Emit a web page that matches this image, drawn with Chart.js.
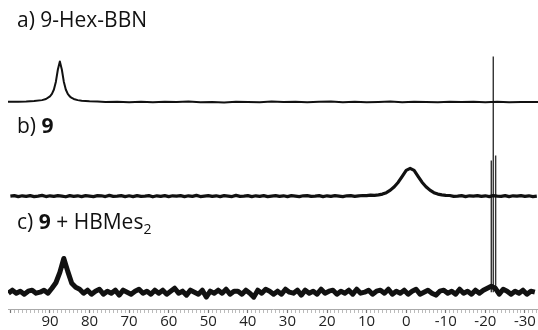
<!DOCTYPE html>
<html>
<head>
<meta charset="utf-8">
<script src="https://cdn.jsdelivr.net/npm/chart.js@4"></script>
<style>
  html, body { margin: 0; padding: 0; background: #fff; }
  #wrap { position: relative; width: 538px; height: 330px; }
  .lbl { position: absolute; left: 17px; font-family: "Open Sans", sans-serif; font-size: 21px; line-height: 24px; color: #111; white-space: nowrap; }
  .lbl sub { font-size: 14px; line-height: 0; vertical-align: -5px; }
</style>
</head>
<body>
<div id="wrap">
  <canvas id="nmr" width="538" height="330"></canvas>
  <div class="lbl" style="top:7px">a) 9-Hex-BBN</div>
  <div class="lbl" style="top:113px">b) <b>9</b></div>
  <div class="lbl" style="top:209px">c) <b>9</b> + HBMes<sub>2</sub></div>
</div>
<script>
// x axis (ppm), drawn high -> low like an NMR plot
const ppmMax = 100.6;
const ppmMin = -33.3;
const tickLabels = [90, 80, 70, 60, 50, 40, 30, 20, 10, 0, -10, -20, -30];

// a) 9-Hex-BBN : clean spectrum, sharp peak near 87.5 ppm
const specAPpm = [100.6, 98, 96, 94, 92, 91, 90, 89.5, 89, 88.5, 88, 87.5, 87, 86.5, 86, 85.5, 85, 84.5, 84, 83, 82, 80, 78,
  76, 73, 70, 67, 64, 61, 58, 55, 52, 49, 46, 43, 40, 37, 34, 31, 28, 25, 22, 19, 16, 13, 10, 7, 4, 1,
  -2, -5, -8, -11, -14, -17, -20, -23, -26, -29, -33.3];
const specAInt = [0.2, 0.35, 0.55, 0.95, 1.9, 3, 5.7, 8.2, 12.6, 20.5, 32.8, 41, 32.8, 20.5, 12.6, 8.2, 5.7, 4.1, 3.1, 1.9, 1.3, 0.7, 0.4,
  0, 0.3, -0.2, 0.3, -0.3, 0.2, 0, 0.4, -0.3, 0.1, -0.4, 0.3, 0, -0.3, 0.4, -0.1, 0.2, -0.3, 0.3, 0.5, -0.2, 0.3, -0.3, 0.1, 0.4, -0.2,
  0.3, 0, -0.3, 0.3, -0.1, 0.2, -0.3, 0.3, -0.2, 0.1, 0];

// b) 9 : broad peak near -1 ppm, sampled every 1 ppm from 100 down
const specBStart = 100;
const specBInt = [
  0, 0.5, -0.5, 0.3, -0.3, 0.5, -0.5, 0, 0.7, -0.5, 0.3, -0.3, 0.5, 0, -0.7, 0.5, -0.3, 0.3, -0.5, 0.5,
  0, -0.5, 0.5, 0.3, -0.5, 0.7, -0.3, 0, 0.5, -0.5, 0.3, -0.5, 0.5, -0.3, 0, 0.5, -0.7, 0.3, -0.3, 0.5,
  -0.5, 0.3, 0, 0.5, -0.5, 0.3, -0.3, 0.7, -0.5, 0, 0.5, -0.3, 0.3, -0.5, 0.5, 0, -0.5, 0.7, -0.3, 0,
  0.5, -0.5, 0.3, -0.3, 0.5, -0.5, 0, 0.5, -0.3, 0.3, -0.5, 0.5, 0, -0.5, 0.3, 0.5, -0.3, 0, 0.5, -0.5,
  0.3, -0.3, 0.5, 0, -0.5, 0.3, 0.5, -0.3, 0.3, 0.6, 0.5, 1, 0.8, 1.2, 2, 3.5, 6, 9.5, 14, 20,
  26, 28, 26, 20, 14, 9.5, 6, 3.5, 2, 1.2, 0.7, 0.6, -0.3, 0, 0.5, -0.5, 0.3, 0, 0.5, -0.3,
  0.3, -0.5, 0.5, 0, -0.3, 0.5, -0.5, 0.3, 0, 0.5, -0.3, 0.3, -0.5, 0
];

// c) 9 + HBMes2 : noisy, peak near 86.5 ppm, sampled every 1 ppm from 100.5 down
const specCStart = 100.5;
const specCInt = [
  -1, 2, -1, 1, -2, 1, 2, -1, 0, 2, -1, 4, 9.5, 20, 34, 21, 9, 5,
  3, -1, 2, -2, 1, 3, -2, 1, -1, 2, -3, 2, 0, -2, 1, 3, -1, 1, -2, 2,
  -1, 2, -2, 1, 4, -1, 1, -3, 2, 0, -2, 2, -5, 1, -1, 2, -1, 3, -2, 1,
  1, -2, 2, -1, -5, 2, -1, 3, 1, -2, 1, -2, 3, 0, -1, 2, -3, 2, -1, 1,
  -2, 3, -1, 1, 2, -2, 1, -1, 2, -2, 3, -1, 0, 2, -2, 1, 2, -1, 3, -2,
  1, -1, 2, -2, 1, 3, -2, 0, 2, -1, -3, 1, 2, -1, 1, -2, 3, -1, 1, -2,
  2, -1, 2, 4, 6, 4, -2, 3, 1, -2, 1, -1, 2, -2, 1, 0
];

// c) sharp lines around -22 ppm (they run up through the other traces)
const sharpPpm = [-21.5, -22.0, -22.6];
const sharpHeight = [133, 238, 138];

function gridSeries(start, values, offset) {
  return values.map((v, i) => ({ x: start - i, y: offset + v }));
}

document.addEventListener('DOMContentLoaded', function () {
    const el = document.getElementById('nmr');

    // vertical stacking of the three traces (1 y unit = 1 px)
    const offA = 209, offB = 114, offC = 17;

    const dataA = specAPpm.map((p, i) => ({ x: p, y: offA + specAInt[i] }));
    const dataB = gridSeries(specBStart, specBInt, offB);
    const dataC = gridSeries(specCStart, specCInt, offC);

    const dataSharp = [];
    sharpPpm.forEach((p, i) => {
        dataSharp.push({ x: p, y: offC });
        dataSharp.push({ x: p, y: offC + sharpHeight[i] });
        dataSharp.push({ x: p, y: null });
    });

    const tickValues = [];
    for (let v = Math.ceil(ppmMin); v <= Math.floor(ppmMax); v++) tickValues.push(v);

    new Chart(el, {
        type: 'line',
        data: {
            datasets: [
                { data: dataA, borderColor: '#111', borderWidth: 2 },
                { data: dataB, borderColor: '#111', borderWidth: 3.2 },
                { data: dataC, borderColor: '#111', borderWidth: 5 },
                { data: dataSharp, borderColor: '#333', borderWidth: 1.4, spanGaps: false }
            ]
        },
        options: {
            responsive: false,
            animation: false,
            events: [],
            layout: { padding: { left: 8, right: 0, top: 0, bottom: 0 } },
            elements: {
                point: { radius: 0 },
                line: { tension: 0, fill: false, borderJoinStyle: 'round' }
            },
            plugins: {
                legend: { display: false },
                tooltip: { enabled: false }
            },
            scales: {
                x: {
                    type: 'linear',
                    reverse: true,
                    min: ppmMin,
                    max: ppmMax,
                    afterBuildTicks: function (axis) {
                        axis.ticks = tickValues.map(v => ({ value: v }));
                    },
                    ticks: {
                        autoSkip: false,
                        maxRotation: 0,
                        minRotation: 0,
                        padding: 1,
                        color: '#222',
                        font: { family: '"Open Sans", sans-serif', size: 15, lineHeight: 1 },
                        callback: function (value) {
                            return tickLabels.includes(value) ? String(value) : '';
                        }
                    },
                    grid: {
                        drawOnChartArea: false,
                        drawTicks: true,
                        tickLength: 4,
                        tickColor: (ctx) => (ctx.tick && ctx.tick.value % 10 === 0) ? '#777' : '#bbb',
                        tickWidth: (ctx) => (ctx.tick && ctx.tick.value % 10 === 0) ? 1.2 : 1
                    },
                    border: { display: true, color: '#aaa', width: 1 }
                },
                y: {
                    display: false,
                    min: 0,
                    max: 312
                }
            }
        }
    });
});
</script>
</body>
</html>
